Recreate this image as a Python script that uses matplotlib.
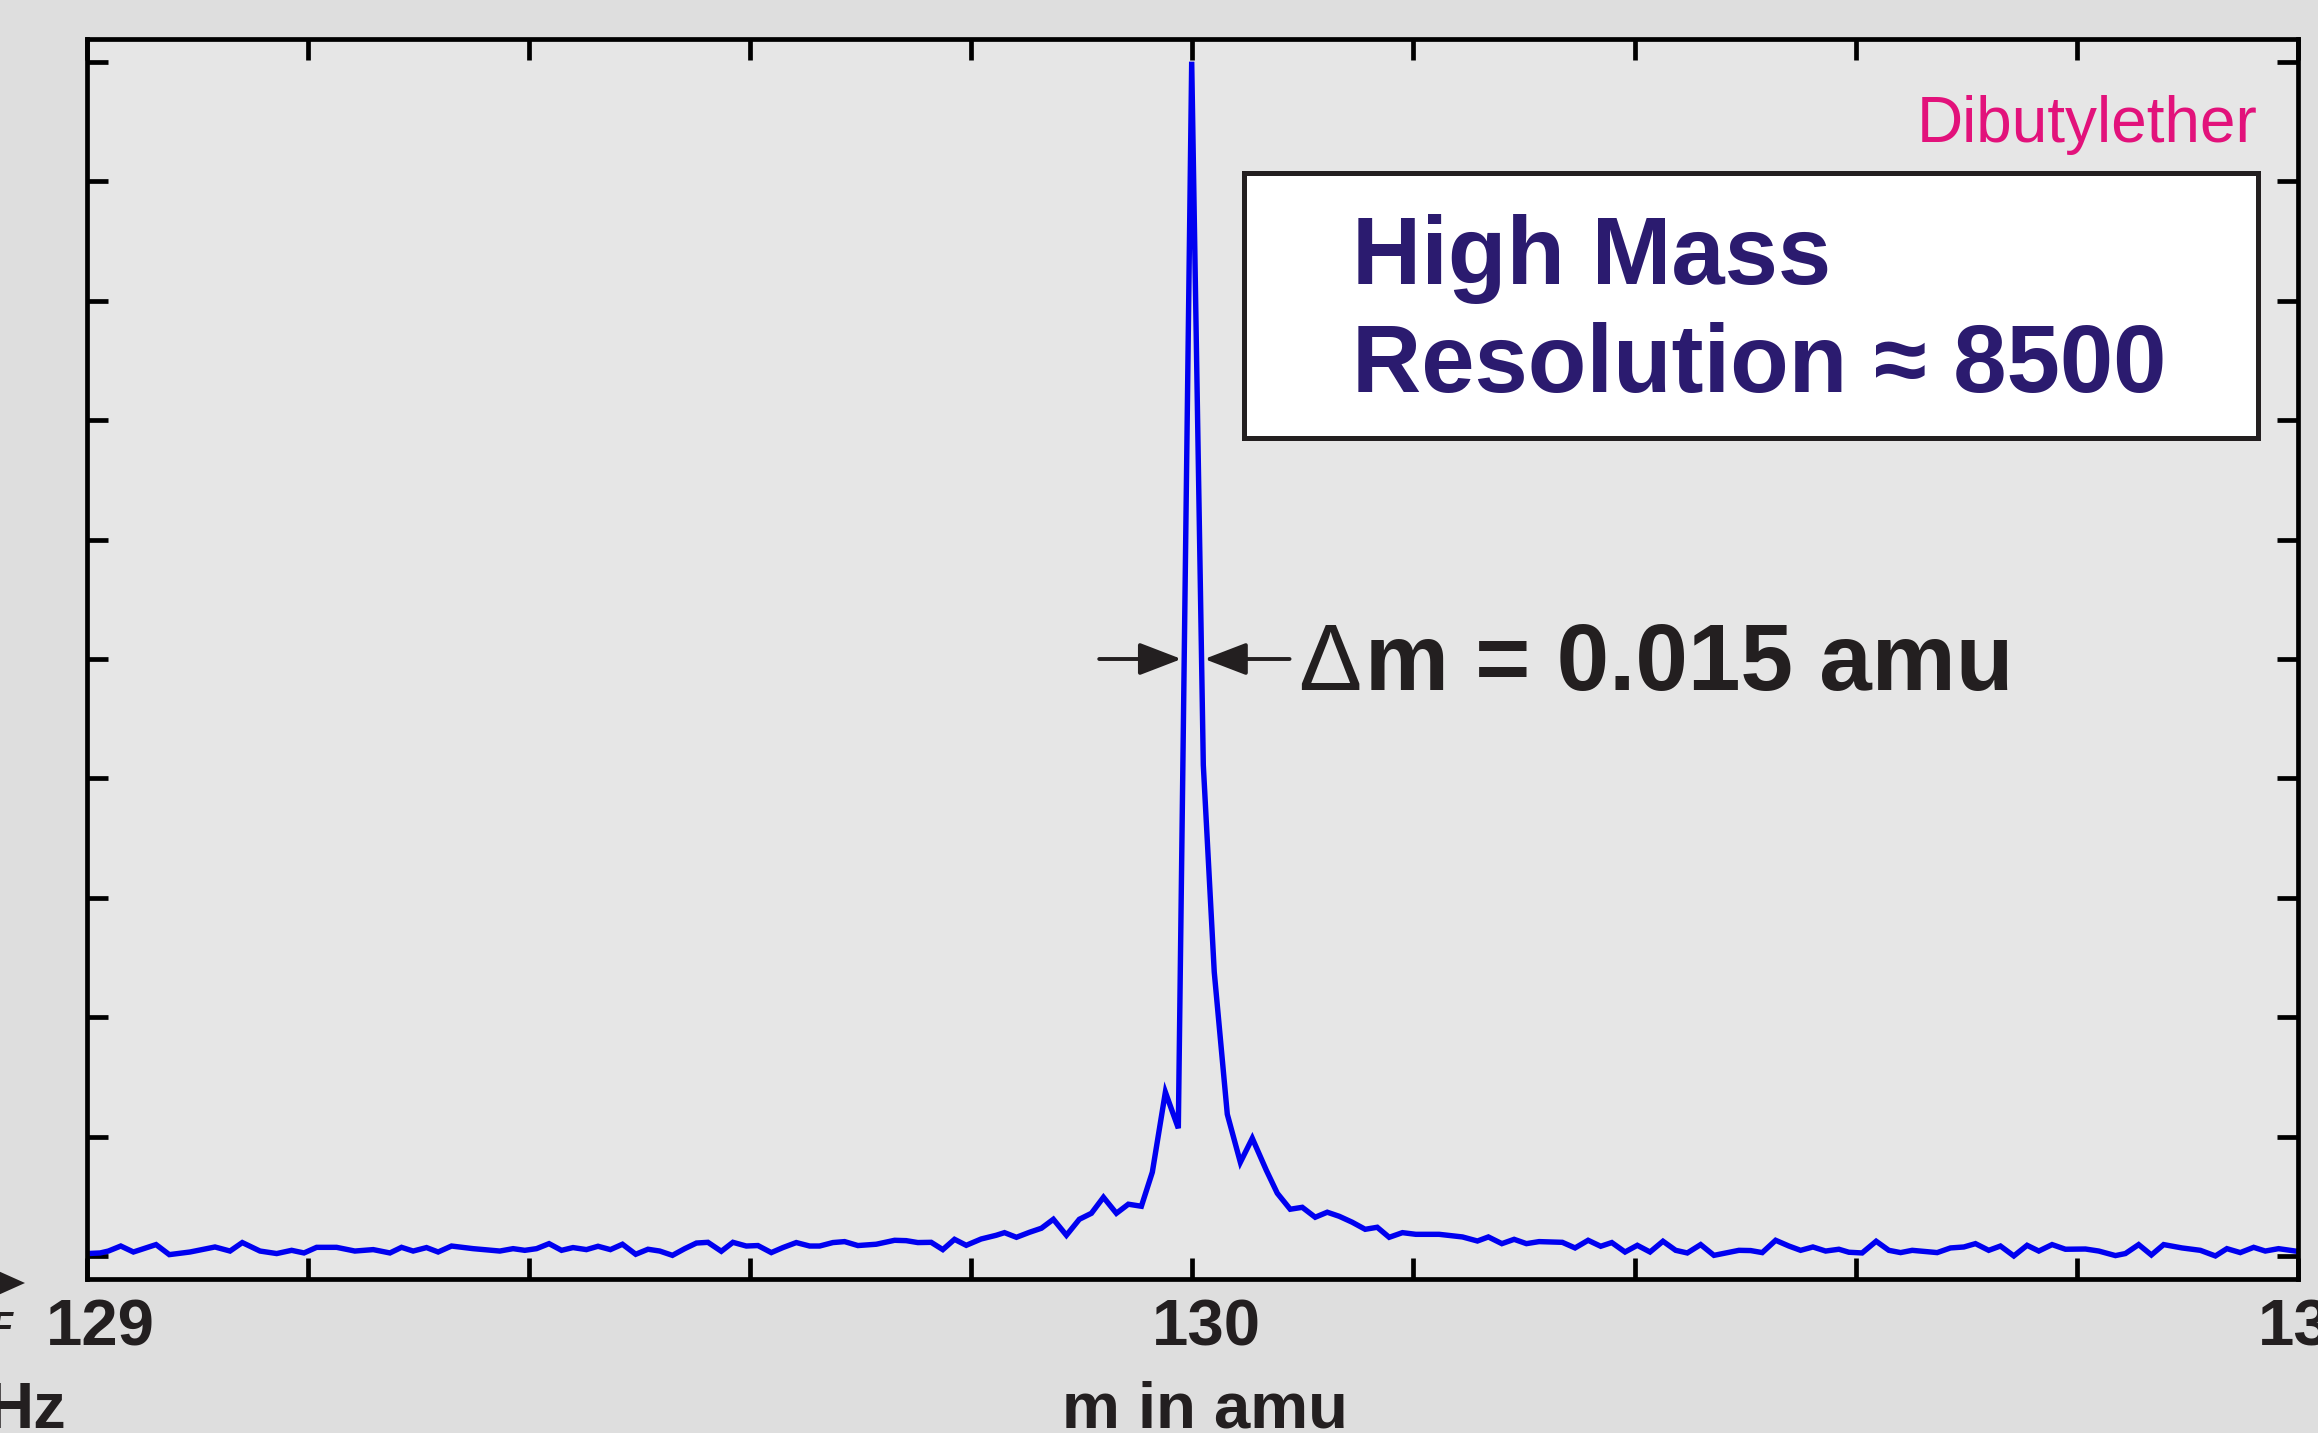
import matplotlib

matplotlib.use("Agg")
import matplotlib.pyplot as plt
import numpy as np
from matplotlib.patches import Polygon, Rectangle
from matplotlib.ticker import FuncFormatter, MultipleLocator
from matplotlib.transforms import ScaledTranslation, offset_copy

# Dibutylether, mass line at m = 130 amu (intensity scaled so the peak is 1000)
mass = [
    129.0008, 129.0123, 129.0198, 129.0310, 129.0424, 129.0629, 129.0749, 129.0936, 129.1162, 129.1298,
    129.1409, 129.1569, 129.1720, 129.1855, 129.1967, 129.2081, 129.2262, 129.2427, 129.2593, 129.2744,
    129.2849, 129.2954, 129.3075, 129.3180, 129.3301, 129.3497, 129.3738, 129.3858, 129.3964,
    129.4070, 129.4183, 129.4296, 129.4400, 129.4521, 129.4626, 129.4738, 129.4847, 129.4967, 129.5078,
    129.5184, 129.5299, 129.5410, 129.5516, 129.5620, 129.5741, 129.5846, 129.5967, 129.6072, 129.6193,
    129.6298, 129.6419, 129.6540, 129.6630, 129.6750, 129.6856, 129.6976, 129.7142, 129.7308, 129.7413,
    129.7518, 129.7639, 129.7744, 129.7850, 129.7956, 129.8091, 129.8227, 129.8302,
    129.8410, 129.8528, 129.8636, 129.8744, 129.8862, 129.8979, 129.9088, 129.9197, 129.9314, 129.9422,
    129.9540, 129.9639, 129.9757, 129.9874, 129.9995,
    130.0100, 130.0199, 130.0317, 130.0435, 130.0543, 130.0670, 130.0769, 130.0886, 130.0995, 130.1112,
    130.1221, 130.1329, 130.1447, 130.1564, 130.1673, 130.1781,
    130.1901, 130.2022, 130.2233, 130.2444, 130.2579, 130.2678, 130.2800, 130.2911, 130.3022, 130.3137,
    130.3347, 130.3462, 130.3580, 130.3694, 130.3794, 130.3914, 130.4025, 130.4140, 130.4257, 130.4372,
    130.4477, 130.4598, 130.4718, 130.4944, 130.5050, 130.5155, 130.5276, 130.5396, 130.5502, 130.5613,
    130.5728, 130.5848, 130.5938,
    130.6058, 130.6185, 130.6300, 130.6406, 130.6511, 130.6737, 130.6857, 130.6978, 130.7083, 130.7203,
    130.7309, 130.7430, 130.7550, 130.7656, 130.7776, 130.7897, 130.8078, 130.8198, 130.8349, 130.8439,
    130.8559, 130.8674, 130.8785, 130.8951, 130.9117, 130.9253, 130.9357, 130.9478, 130.9599, 130.9704,
    130.9824, 130.9975,
]
intensity = [
    2.3, 2.8, 4.4, 8.6, 3.6, 9.8, 1.4, 3.6, 7.8, 4.4,
    11.5, 4.4, 2.3, 5.0, 2.8, 7.5, 7.5, 4.4, 5.6, 2.8,
    7.5, 4.4, 7.3, 3.6, 8.6, 6.4, 4.4, 6.4, 5.0,
    6.4, 10.6, 5.0, 7.3, 5.6, 8.4, 5.6, 10.1, 1.7, 5.9,
    4.4, 0.8, 6.4, 11.1, 11.7, 4.2, 11.7, 8.6, 9.0, 3.1,
    7.3, 11.5, 8.6, 8.6, 11.5, 12.3, 9.0, 10.1, 13.4, 13.1,
    11.5, 11.7, 5.6, 14.2, 9.2, 14.5, 17.6, 19.8,
    15.9, 20.1, 23.5, 31.0, 17.6, 31.0, 36.0, 49.4, 36.0, 43.6,
    41.9, 70.4, 137.4, 107.2, 1000.0,
    411.2, 237.9, 118.9, 78.7, 98.8, 72.0, 52.8, 39.4, 41.0, 32.7,
    36.9, 33.5, 28.5, 22.6, 24.3, 15.9,
    19.8, 18.4, 18.4, 16.2, 12.8, 16.2, 10.6, 14.2, 10.6, 12.3,
    11.7, 7.0, 13.4, 8.4, 11.5, 3.6, 9.2, 3.6, 12.6, 5.0,
    2.8, 9.8, 0.8, 5.0, 4.8, 3.1, 13.4, 8.6, 5.0, 7.8,
    4.4, 5.9, 3.4,
    2.8, 12.6, 5.0, 3.1, 5.0, 3.1, 7.0, 7.8, 10.6, 5.0,
    8.6, 0.3, 9.2, 4.4, 9.8, 5.9, 6.1, 4.4, 0.6, 2.3,
    9.8, 1.1, 9.8, 7.0, 5.0, 0.3, 6.4, 3.1, 7.5, 4.4,
    6.4, 4.4,
]

x_range = (129.0, 131.0)
y_range = (-19.0, 1019.0)
x_step = 0.2
y_step = 100

compound = "Dibutylether"
title_lines = ["High Mass", "Resolution \u2248 8500"]
width_label = "m = 0.015 amu"
x_label = "m in amu"

INK = "#231f20"
NAVY = "#2b1b6f"
MAGENTA = "#e2127b"
BLUE = "#0000f0"

plt.rcParams["font.family"] = ["Liberation Sans", "DejaVu Sans"]
plt.rcParams["font.weight"] = "bold"

W, H, DPI = 2318, 1433, 100
fig = plt.figure(figsize=(W / DPI, H / DPI), dpi=DPI)
fig.patch.set_facecolor("#dedede")
ax = fig.add_axes([86.5 / W, 1 - 1279 / H, (2298 - 86.5) / W, (1279 - 39) / H])
ax.set_facecolor("#e6e6e6")

x = np.asarray(mass)
y = np.asarray(intensity)
ax.plot(x, y, color=BLUE, lw=3.9, solid_joinstyle="miter", zorder=2)

ax.set_xlim(*x_range)
ax.set_ylim(*y_range)
ax.xaxis.set_major_locator(MultipleLocator(x_step))
ax.yaxis.set_major_locator(MultipleLocator(y_step))
ax.xaxis.set_major_formatter(
    FuncFormatter(lambda v, _: f"{v:.0f}" if abs(v - round(v)) < 1e-6 else "")
)
ax.tick_params(axis="both", direction="in", length=15, width=3.4, color="black",
               top=True, right=True, labelleft=False, labelsize=47,
               labelcolor=INK, pad=14)
for lbl in ax.get_xticklabels():
    lbl.set_transform(lbl.get_transform() + ScaledTranslation(0.14, 0, fig.dpi_scale_trans))
for side in ax.spines.values():
    side.set_linewidth(3.4)
    side.set_color("black")

# full width at half maximum, taken from the flanks of the line
ip = int(np.argmax(y))
half = y[ip] / 2
x_left = np.interp(half, [y[ip - 1], y[ip]], [x[ip - 1], x[ip]])
x_right = np.interp(half, [y[ip + 1], y[ip]], [x[ip + 1], x[ip]])

arrow = dict(arrowstyle="-|>,head_length=1.3,head_width=0.5", color=INK,
             lw=2.8, shrinkA=0, shrinkB=2.0, mutation_scale=20)
ax.annotate("", xy=(x_left, half), xytext=(-85, 0), textcoords="offset pixels",
            arrowprops=arrow)
ax.annotate("", xy=(x_right, half), xytext=(88, 0), textcoords="offset pixels",
            arrowprops=arrow)

t_delta = offset_copy(ax.transData, fig=fig, x=97, y=-31, units="dots")
ax.text(x_right, half, "\u0394", transform=t_delta, fontsize=68,
        fontweight="normal", color=INK, ha="left", va="baseline")
t_rest = offset_copy(ax.transData, fig=fig, x=163, y=-31, units="dots")
ax.text(x_right, half, width_label, transform=t_rest, fontsize=68,
        color=INK, ha="left", va="baseline")

# resolution box
ax.add_patch(Rectangle((0.5235, 0.6785), 0.4585, 0.2135, transform=ax.transAxes,
                       facecolor="white", edgecolor=INK, lw=3.6, zorder=3))
ax.text(0.5722, 0.8024, title_lines[0], transform=ax.transAxes, fontsize=69,
        color=NAVY, ha="left", va="baseline", zorder=4)
ax.text(0.5722, 0.7153, title_lines[1], transform=ax.transAxes, fontsize=69,
        color=NAVY, ha="left", va="baseline", zorder=4)
ax.text(0.9815, 0.9169, compound, transform=ax.transAxes, fontsize=46,
        fontweight="normal", color=MAGENTA, ha="right", va="baseline")

fig.text(1205 / W, 5 / H, x_label, fontsize=47, color=INK,
         ha="center", va="baseline")

# pieces of the neighbouring frequency axis along the left edge
fig.add_artist(Polygon([(-4 / W, 1 - 1270 / H), (-4 / W, 1 - 1296 / H), (25 / W, 1 - 1283 / H)],
                       closed=True, transform=fig.transFigure, facecolor=INK,
                       edgecolor="none"))
fig.text(12 / W, 1 - 1338 / H, "F", fontsize=26, fontstyle="italic", color=INK,
         ha="right", va="baseline")
fig.text(66 / W, 5 / H, "Hz", fontsize=47, color=INK, ha="right", va="baseline")

fig.savefig("out.png", dpi=DPI, facecolor=fig.get_facecolor())
